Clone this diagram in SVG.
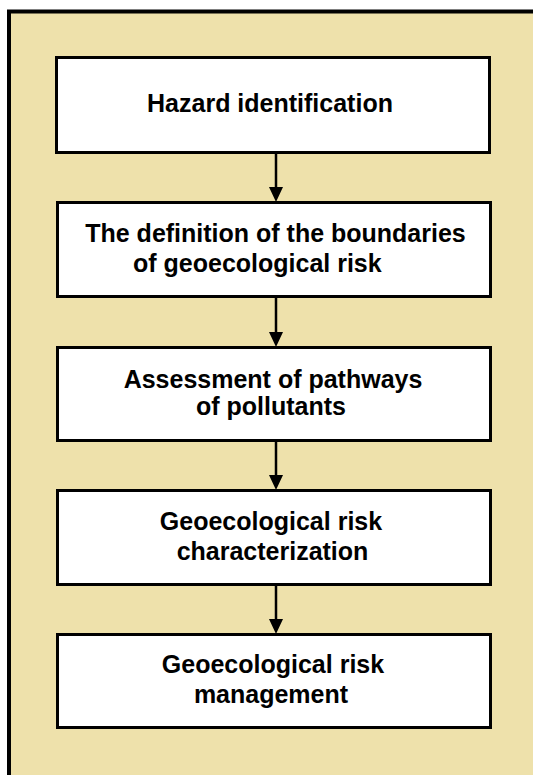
<svg xmlns="http://www.w3.org/2000/svg" width="533" height="775" viewBox="0 0 533 775">
<defs>
<style>
.box{fill:#ffffff;stroke:#000000;stroke-width:3}
.t{font-family:"Liberation Sans",Arial,sans-serif;font-weight:bold;font-size:25px;fill:#000000;text-anchor:middle}
.c{stroke:#000000;stroke-width:2.5;fill:none}
</style>
</defs>
<rect x="0" y="0" width="533" height="775" fill="#ffffff"/>
<rect x="9" y="11.5" width="560" height="790" fill="#EEE1AB" stroke="#000000" stroke-width="4"/>
<g id="connectors">
<line class="c" x1="276" y1="153" x2="276" y2="187"/>
<path d="M269,187 L283,187 L276,202 Z" fill="#000000"/>
<line class="c" x1="276" y1="297" x2="276" y2="332"/>
<path d="M269,332 L283,332 L276,347 Z" fill="#000000"/>
<line class="c" x1="276" y1="440" x2="276" y2="475"/>
<path d="M269,475 L283,475 L276,490 Z" fill="#000000"/>
<line class="c" x1="276" y1="585" x2="276" y2="619"/>
<path d="M269,619 L283,619 L276,634 Z" fill="#000000"/>
</g>
<g id="n1">
<rect class="box" x="56.5" y="57.5" width="433" height="95"/>
<text class="t" x="270" y="112">Hazard identification</text>
</g>
<g id="n2">
<rect class="box" x="57.5" y="202.5" width="433" height="94"/>
<text class="t" x="275.5" y="242">The definition of the boundaries</text>
<text class="t" x="133" y="272" style="text-anchor:start">of geoecological risk</text>
</g>
<g id="n3">
<rect class="box" x="57.5" y="347.5" width="433" height="93"/>
<text class="t" x="273" y="388">Assessment of pathways</text>
<text class="t" x="271" y="415">of pollutants</text>
</g>
<g id="n4">
<rect class="box" x="57.5" y="490.5" width="433" height="94"/>
<text class="t" x="271" y="530">Geoecological risk</text>
<text class="t" x="272.5" y="560">characterization</text>
</g>
<g id="n5">
<rect class="box" x="57.5" y="634.5" width="433" height="93"/>
<text class="t" x="273" y="673">Geoecological risk</text>
<text class="t" x="271" y="703">management</text>
</g>
</svg>
